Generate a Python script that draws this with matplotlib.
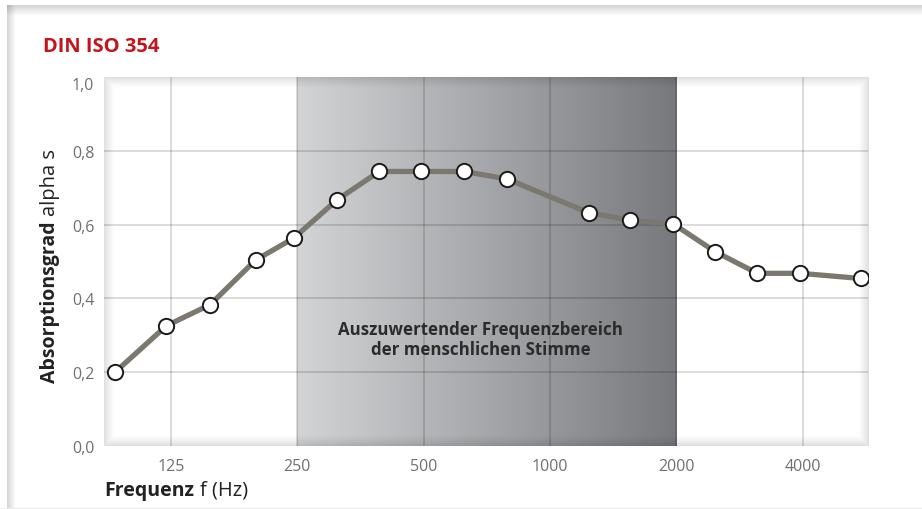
import numpy as np
import matplotlib
matplotlib.use('Agg')
import matplotlib.pyplot as plt
from matplotlib.colors import LinearSegmentedColormap

# data (frequency position in Hz, absorption alpha s)
freq = [92, 122, 155, 199, 245, 311, 392, 493, 623, 789, 1239, 1552, 1967, 2472, 3119, 3943, 5498]
alpha = [0.200, 0.326, 0.383, 0.504, 0.563, 0.667, 0.744, 0.744, 0.744, 0.724,
         0.632, 0.612, 0.602, 0.527, 0.468, 0.468, 0.454]
xticks = [125, 250, 500, 1000, 2000, 4000]
xticklabels = ['125', '250', '500', '1000', '2000', '4000']
yticks = [0.0, 0.2, 0.4, 0.6, 0.8, 1.0]
yticklabels = ['0,0', '0,2', '0,4', '0,6', '0,8', '1,0']
band = (250, 2000)
band_text = 'Auszuwertender Frequenzbereich\nder menschlichen Stimme'

plt.rcParams['font.family'] = ['Open Sans', 'DejaVu Sans']

W, H = 922, 510
fig = plt.figure(figsize=(W / 100, H / 100), dpi=100)
fig.patch.set_facecolor('white')

# background frame with soft shadow at top and left
bg = fig.add_axes([0, 0, 1, 1], zorder=0)
bg.set_xlim(0, W)
bg.set_ylim(H, 0)
bg.axis('off')
fade = np.linspace(0.17, 0.0, 20)
top = np.zeros((20, 2, 4))
top[..., 3] = fade[:, None]
bg.imshow(top, extent=[7, W, 17, 6], aspect='auto', interpolation='bilinear')
left = np.zeros((2, 20, 4))
left[..., 3] = fade[None, :]
bg.imshow(left, extent=[7, 15, H, 6], aspect='auto', interpolation='bilinear')
bg.plot([0, W], [508.5, 508.5], color='#ececec', lw=1)
bg.set_xlim(0, W)
bg.set_ylim(H, 0)

# main plot
x0, x1, y0, y1 = 104, 868, 78, 447
ax = fig.add_axes([x0 / W, 1 - y1 / H, (x1 - x0) / W, (y1 - y0) / H], zorder=1)
ax.set_facecolor('white')
ax.set_xscale('log')
ax.set_xlim(86.6, 5724)
ax.set_ylim(0, 1)

# gradient band (speech frequency range)
bx0 = ax.transAxes.inverted().transform(ax.transData.transform((band[0], 0)))[0]
bx1 = ax.transAxes.inverted().transform(ax.transData.transform((band[1], 0)))[0]
cmap = LinearSegmentedColormap.from_list('band', ['#d3d4d6', '#78797d'])
ax.imshow(np.linspace(0, 1, 256)[None, :], cmap=cmap, extent=[bx0, bx1, 0, 1],
          transform=ax.transAxes, aspect='auto', zorder=0.5, interpolation='bilinear')

# inner shadow of the plot panel
ph, pw = y1 - y0, x1 - x0
yy, xx = np.mgrid[0:ph, 0:pw]
d = np.minimum(np.minimum(xx, pw - 1 - xx), np.minimum(yy, ph - 1 - yy))
sh = np.zeros((ph, pw, 4))
sh[..., 3] = np.clip(0.2 * (1 - d / 11.0), 0, None) ** 1.3
ax.imshow(sh, extent=[0, 1, 0, 1], transform=ax.transAxes, aspect='auto', zorder=0.8)

ax.set_xlim(86.6, 5724)
ax.set_ylim(0, 1)

# grid
for t in xticks:
    ax.axvline(t, color='black', alpha=0.18, lw=1.1, zorder=1)
for t in yticks[1:-1]:
    ax.axhline(t, color='black', alpha=0.18, lw=1.1, zorder=1)

ax.plot(freq, alpha, color='#7b786f', lw=3.8, zorder=3, solid_capstyle='round')
ax.plot(freq, alpha, 'o', ms=11, mfc='white', mec='#1a1a1a', mew=1.4, zorder=4)

ax.text(0.493, 0.29, band_text, transform=ax.transAxes, ha='center', va='center',
        fontsize=12.2, fontweight='bold', color='#2b2b2b', linespacing=1.15, zorder=5)

ax.set_xticks(xticks)
ax.set_xticklabels(xticklabels)
ax.minorticks_off()
ax.set_yticks(yticks)
ax.set_yticklabels(yticklabels)
ax.tick_params(length=0, labelsize=11.5, labelcolor='#707070')
ax.tick_params(axis='x', pad=9)
ax.tick_params(axis='y', pad=7)
ylabs = ax.get_yticklabels()
ylabs[-1].set_va('top')
for s in ax.spines.values():
    s.set_visible(False)

# titles and axis labels
fig.text(43 / W, 1 - 52 / H, 'DIN ISO 354', color='#c3161c', fontsize=14.5,
         fontweight='bold', va='baseline', ha='left')
fig.text(104 / W, 1 - 496 / H, 'Frequenz', color='#222222', fontsize=14,
         fontweight='bold', va='baseline', ha='left')
fig.text(200 / W, 1 - 496 / H, 'f (Hz)', color='#222222', fontsize=14.5,
         va='baseline', ha='left')
fig.text(50 / W, 1 - 383 / H, 'Absorptionsgrad', color='#222222', fontsize=14,
         fontweight='bold', rotation=90, va='bottom', ha='center')
fig.text(50 / W, 1 - 216 / H, 'alpha s', color='#222222', fontsize=14.5,
         rotation=90, va='bottom', ha='center')

fig.savefig('out.png', dpi=100)
